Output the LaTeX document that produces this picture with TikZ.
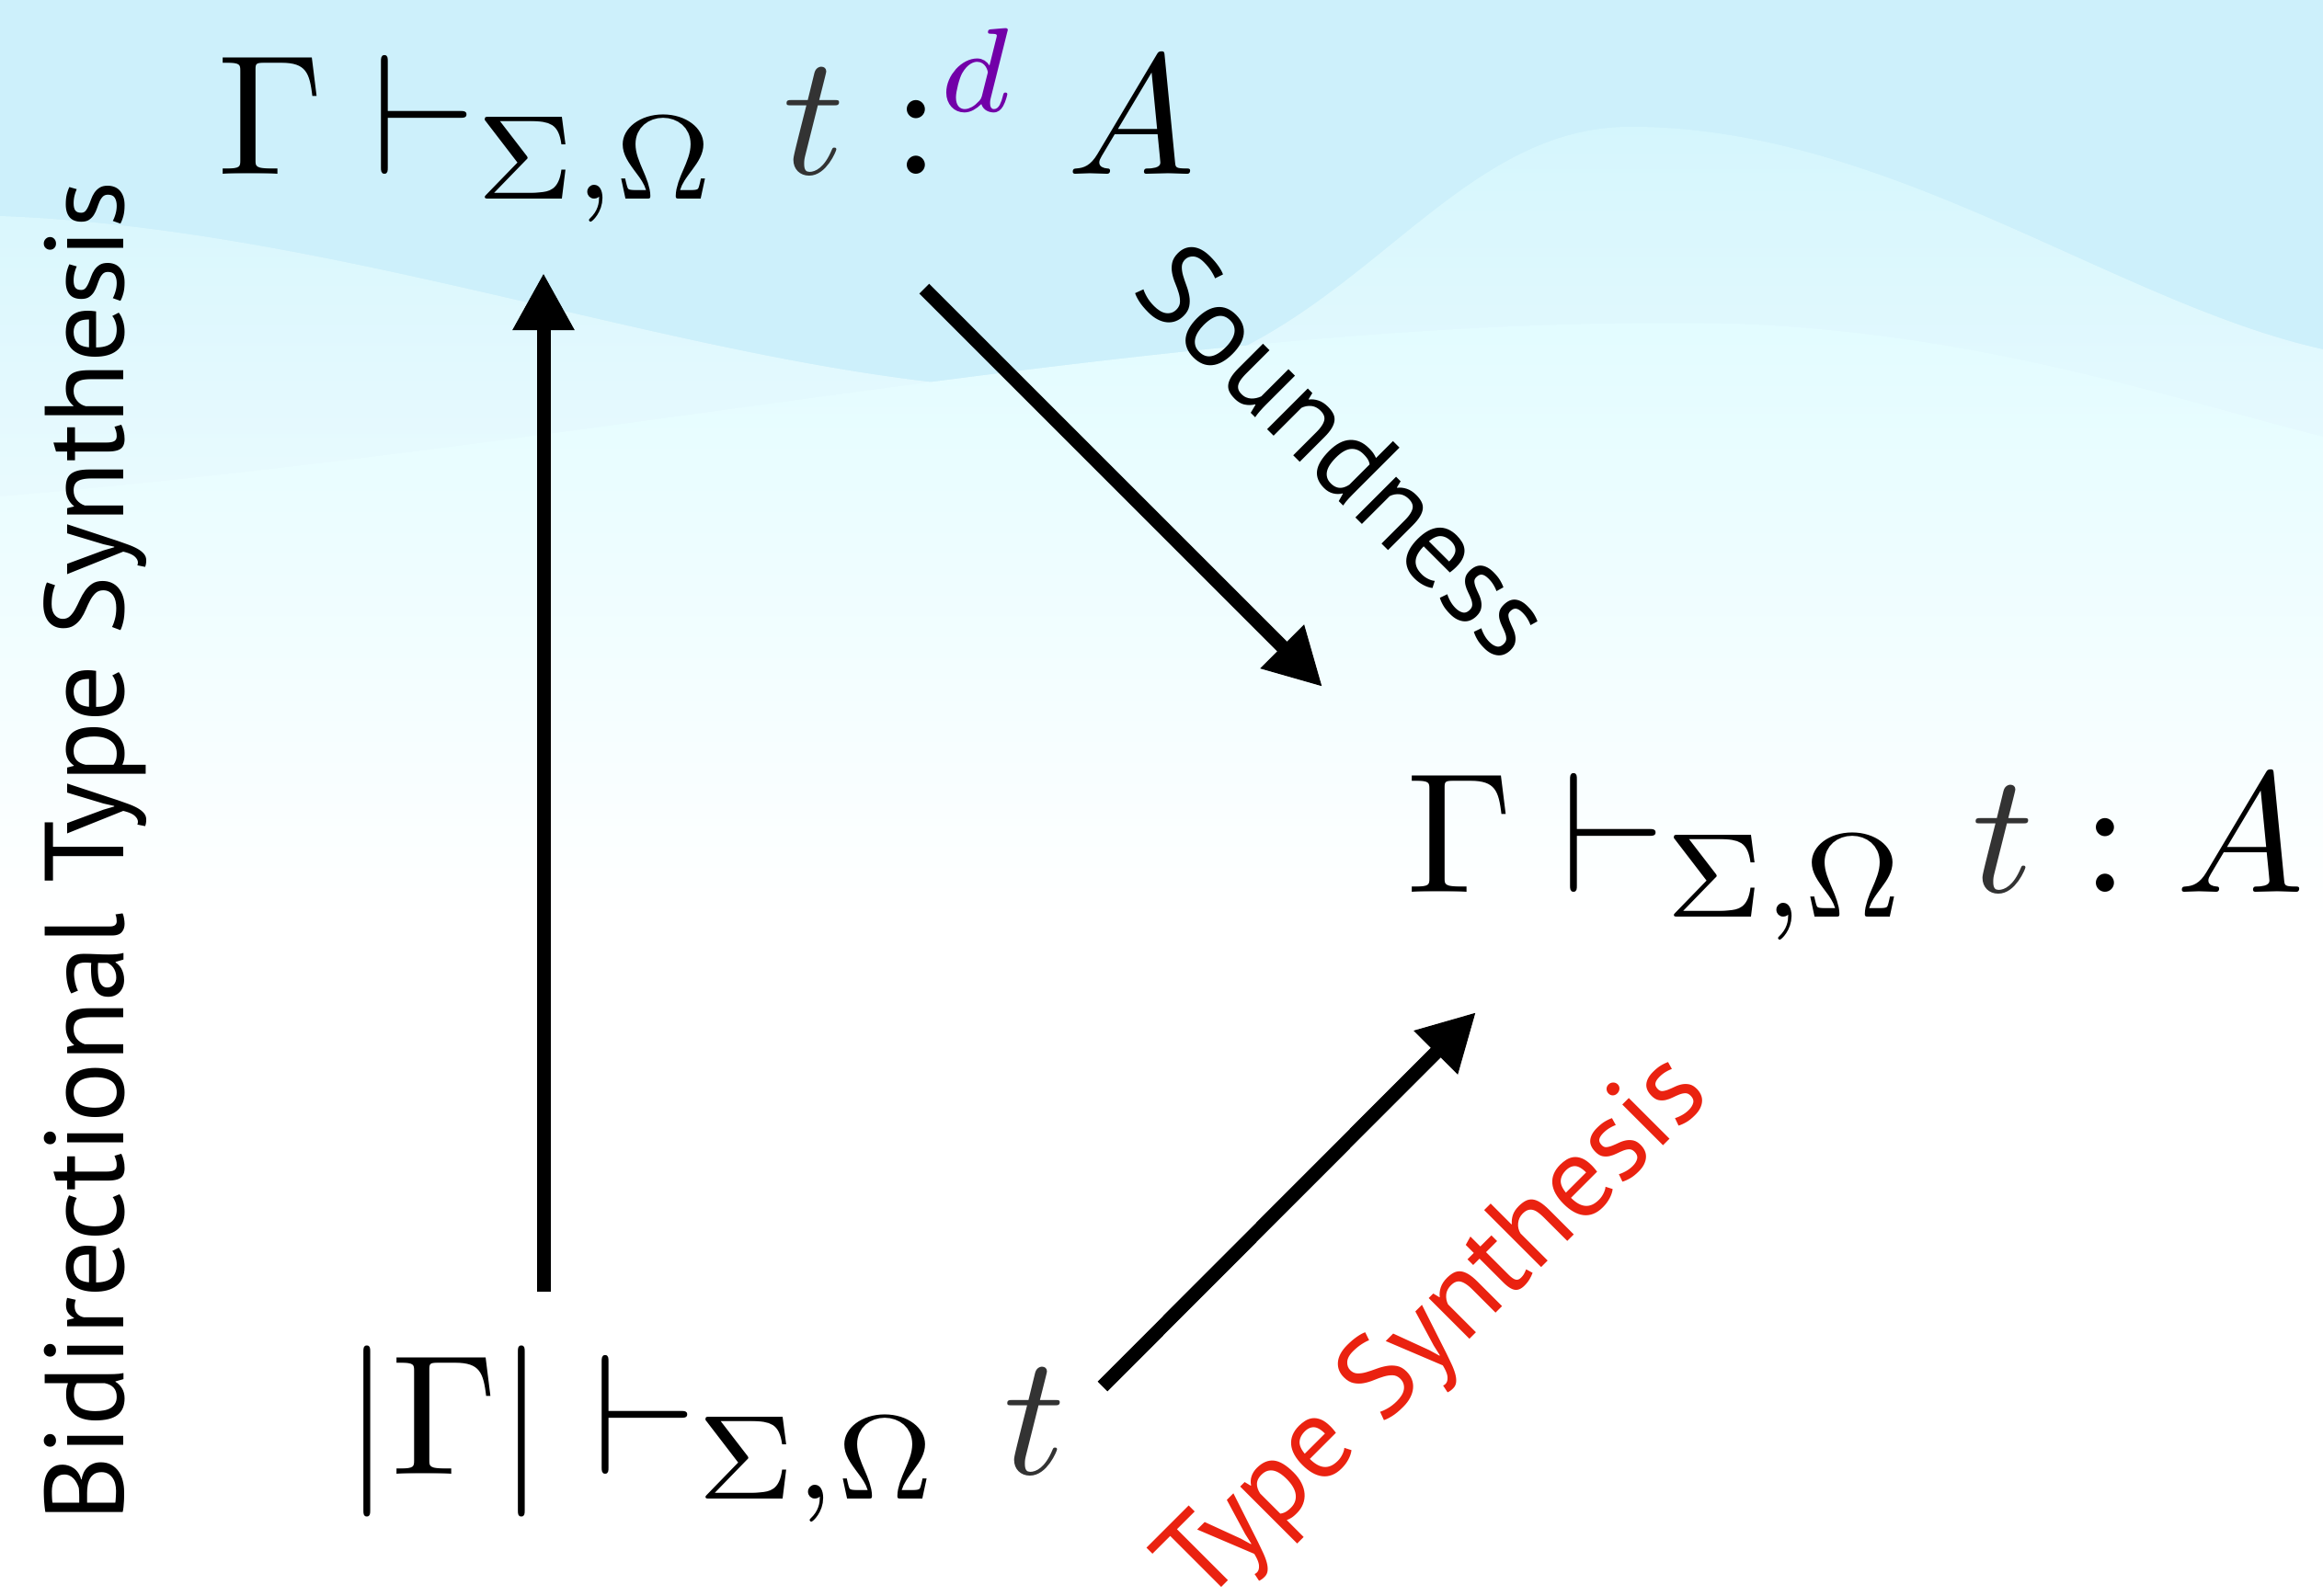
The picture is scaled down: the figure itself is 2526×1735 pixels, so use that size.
\documentclass[tikz,border=0pt]{standalone}
\usepackage{fontspec}
\usepackage{graphicx}
\usetikzlibrary{arrows.meta}
\newfontfamily\labfont{PT Sans}
\definecolor{bgtop}{RGB}{205,240,251}
\definecolor{waveA}{RGB}{213,246,253}
\definecolor{waveB}{RGB}{226,252,255}
\definecolor{tgray}{RGB}{51,51,51}
\definecolor{dpurple}{RGB}{114,0,168}
\definecolor{tsred}{RGB}{234,34,16}
\tikzset{
  lab/.style={font=\labfont\fontsize{35.6pt}{40pt}\selectfont, inner sep=0pt},
  sidelab/.style={font=\labfont\fontsize{34.7pt}{40pt}\selectfont, inner sep=0pt},
  formula/.style={anchor=base west, inner sep=0pt},
  bigarrow/.style={line width=0.15cm, -{Triangle[length=0.62cm,width=0.63cm]}},
}
\newcommand{\bigmath}[1]{\scalebox{5.29}{$#1$}}
\newcommand{\tterm}{\mkern1.5mu\textcolor{tgray}{t}}
\begin{document}
\begin{tikzpicture}[x=0.01cm, y=-0.01cm]
\useasboundingbox (0,0) rectangle (2526,1735);
% background
\fill[bgtop] (0,0) rectangle (2526,1000);
\fill[white] (0,1000) rectangle (2526,1735);
\shade[top color=waveA, bottom color=white]
  (0,235) .. controls (400,250) and (800,420) .. (1150,425)
  .. controls (1450,430) and (1550,140) .. (1770,138)
  .. controls (2050,136) and (2300,330) .. (2526,380)
  -- (2526,1000) -- (0,1000) -- cycle;
\shade[top color=waveB, bottom color=white]
  (0,540) .. controls (700,480) and (1300,340) .. (1886,352)
  .. controls (2150,362) and (2350,430) .. (2526,475)
  -- (2526,1000) -- (0,1000) -- cycle;
% formulas
\node[formula] (top) at (236,189)
  {\bigmath{\Gamma \vdash_{\Sigma,\Omega} \tterm :^{\textcolor{dpurple}{d}} A}};
\node[formula] (right) at (1529,970)
  {\bigmath{\Gamma \vdash_{\Sigma,\Omega} \tterm : A}};
\node[formula] (bottom) at (373,1603)
  {\bigmath{|\Gamma| \vdash_{\Sigma,\Omega} \tterm}};
% arrow end points
\coordinate (vs) at (591,1405);
\coordinate (ve) at (591,297);
\coordinate (ss) at (1005,314);
\coordinate (se) at (1438,747);
\coordinate (ts) at (1199,1508);
\coordinate (te) at (1605,1101);
\draw[bigarrow] (vs) -- (ve);
\draw[bigarrow] (ss) -- (se);
\draw[bigarrow] (ts) -- (te);
% labels
\node[lab, rotate=-45] (snd) at (1463,490) {Soundness};
\node[lab, text=tsred, rotate=45] (tsl) at (1562,1448) {Type Synthesis};
\node[sidelab, rotate=90, anchor=base] (bid) at (134,926) {Bidirectional Type Synthesis};
\end{tikzpicture}
\end{document}
